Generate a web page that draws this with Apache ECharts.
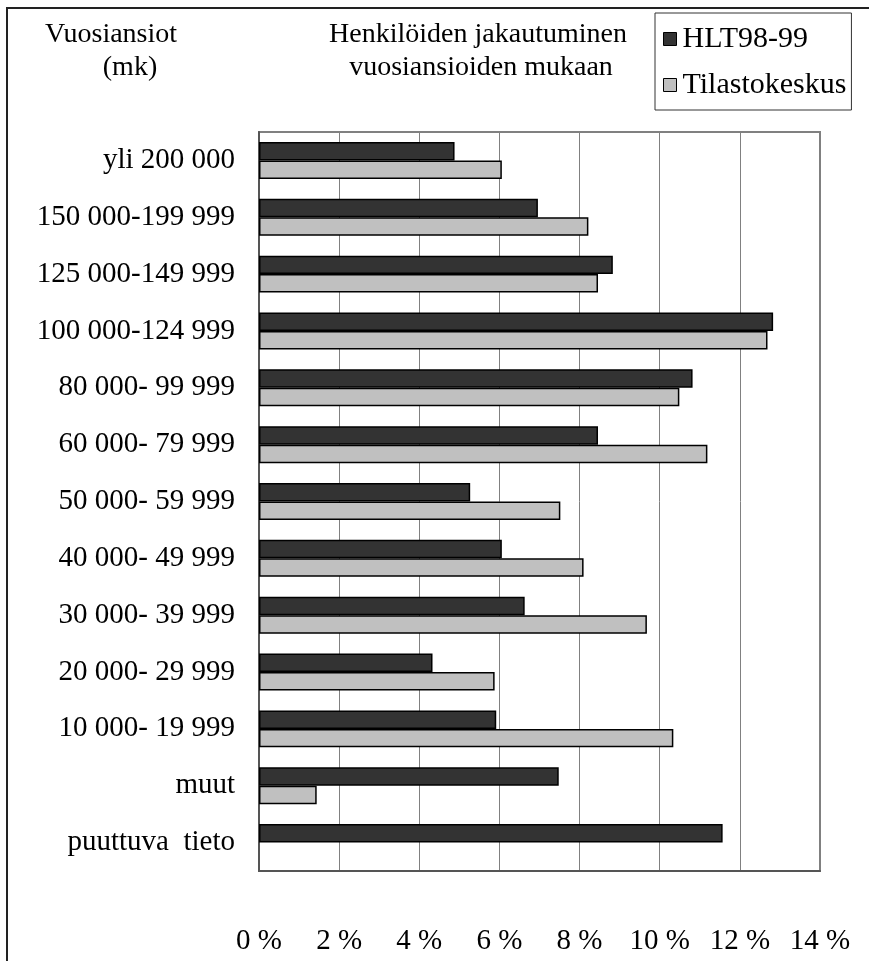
<!DOCTYPE html>
<html>
<head>
<meta charset="utf-8">
<script src="https://cdn.jsdelivr.net/npm/echarts@6/dist/echarts.min.js"></script>
<style>
html,body{margin:0;padding:0;background:#fff;}
#chart{width:869px;height:961px;}
</style>
</head>
<body>
<div id="chart"></div>
<script>
const categories = ['yli 200 000','150 000-199 999','125 000-149 999','100 000-124 999','80 000- 99 999','60 000- 79 999','50 000- 59 999','40 000- 49 999','30 000- 39 999','20 000- 29 999','10 000- 19 999','muut','puuttuva  tieto'];
const hltValues = [4.88, 6.96, 8.83, 12.83, 10.82, 8.46, 5.27, 6.06, 6.63, 4.33, 5.92, 7.48, 11.57];
const tilastoValues = [6.06, 8.22, 8.46, 12.69, 10.49, 11.19, 7.52, 8.10, 9.68, 5.88, 10.34, 1.44, null];
const seriesNames = ['HLT98-99', 'Tilastokeskus'];
const xTicks = [0, 2, 4, 6, 8, 10, 12, 14];

const FONT = '"Liberation Serif", "Times New Roman", serif';
const chart = echarts.init(document.getElementById('chart'), null, {renderer: 'canvas'});
chart.setOption({
  backgroundColor: '#fff',
  animation: false,
  textStyle: {fontFamily: FONT, color: '#000'},
  graphic: [
    {type: 'rect', shape: {x: 7, y: 8, width: 900, height: 1000}, style: {fill: 'none', stroke: '#222', lineWidth: 2}, silent: true},
    {type: 'text', style: {text: 'Vuosiansiot', x: 111, y: 35, textAlign: 'center', textVerticalAlign: 'middle', font: '28px ' + FONT, fill: '#000'}},
    {type: 'text', style: {text: '(mk)', x: 130, y: 68, textAlign: 'center', textVerticalAlign: 'middle', font: '28px ' + FONT, fill: '#000'}},
    {type: 'text', style: {text: 'Henkilöiden jakautuminen', x: 478, y: 35, textAlign: 'center', textVerticalAlign: 'middle', font: '28px ' + FONT, fill: '#000'}},
    {type: 'text', style: {text: 'vuosiansioiden mukaan', x: 481, y: 68, textAlign: 'center', textVerticalAlign: 'middle', font: '28px ' + FONT, fill: '#000'}}
  ],
  legend: {
    data: seriesNames,
    orient: 'vertical',
    left: 655,
    top: 13,
    padding: [11, 5, 10, 8],
    itemGap: 16,
    itemWidth: 13,
    itemHeight: 13,
    icon: 'rect',
    borderColor: '#333',
    borderWidth: 1,
    textStyle: {fontFamily: FONT, fontSize: 30, color: '#000', padding: [0, 0, 0, 1]},
    itemStyle: {borderColor: '#000', borderWidth: 1}
  },
  grid: {
    left: 259, right: 49, top: 132, bottom: 90,
    show: true, borderColor: '#808080', borderWidth: 2, containLabel: false
  },
  xAxis: {
    type: 'value', min: xTicks[0], max: xTicks[xTicks.length - 1], interval: 2,
    axisLine: {show: true, lineStyle: {color: '#555', width: 2}},
    axisTick: {show: false},
    splitLine: {show: true, lineStyle: {color: '#808080', width: 1}},
    axisLabel: {formatter: '{value} %', fontFamily: FONT, fontSize: 29, color: '#000', margin: 56}
  },
  yAxis: {
    type: 'category', data: categories, inverse: true,
    axisLine: {show: true, lineStyle: {color: '#555', width: 2}},
    axisTick: {show: false},
    splitLine: {show: false},
    axisLabel: {fontFamily: FONT, fontSize: 29, color: '#000', margin: 24}
  },
  series: [
    {name: seriesNames[0], type: 'bar', data: hltValues, barGap: '0%', barCategoryGap: '35%',
     itemStyle: {color: '#333333', borderColor: '#000', borderWidth: 1.5}},
    {name: seriesNames[1], type: 'bar', data: tilastoValues, barGap: '0%', barCategoryGap: '35%',
     itemStyle: {color: '#c0c0c0', borderColor: '#000', borderWidth: 1.5}}
  ]
});
</script>
</body>
</html>
